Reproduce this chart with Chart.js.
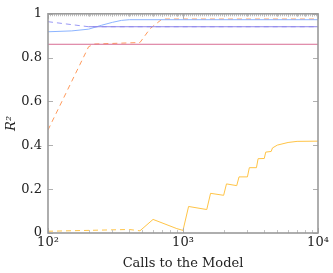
<!DOCTYPE html>
<html>
<head>
<meta charset="utf-8">
<script src="https://cdn.jsdelivr.net/npm/chart.js@4.4.0/dist/chart.umd.min.js"></script>
<style>
  html, body { margin: 0; padding: 0; background: #fff; }
  #wrap { width: 333px; height: 273px; }
</style>
</head>
<body>
<div id="wrap"><canvas id="r2chart" width="333" height="273"></canvas></div>
<script>
// series values (x = calls to the model, y = R^2)
const blueSolidX = [100, 150, 200, 250, 300, 350, 400, 10000];
const blueSolidY = [0.918, 0.922, 0.93, 0.948, 0.961, 0.97, 0.973, 0.973];

const blueDashX = [100, 200, 10000];
const blueDashY = [0.964, 0.941, 0.941];

const purpleX = [200, 10000];
const purpleY = [0.941, 0.941];

const pinkX = [100, 10000];
const pinkY = [0.861, 0.861];

const orangeDashX = [100, 200, 220, 480, 570, 700, 10000];
const orangeDashY = [0.47, 0.85, 0.862, 0.869, 0.932, 0.976, 0.976];

const yellowDashX = [100, 400, 480];
const yellowDashY = [0.008, 0.016, 0.01];

const yellowX = [480, 600, 900, 1000, 1100, 1500, 1600, 2000, 2100, 2500, 2600, 3000, 3100,
                 3500, 3600, 4000, 4100, 4500, 4600, 5000, 6000, 7000, 10000];
const yellowY = [0.01, 0.062, 0.02, 0.012, 0.121, 0.107, 0.181, 0.172, 0.224, 0.216, 0.256, 0.256, 0.298,
                 0.298, 0.339, 0.34, 0.369, 0.372, 0.388, 0.401, 0.413, 0.418, 0.419];

// axis ticks
const xTickValues = [100, 1000, 10000];
const xTickLabels = ['10²', '10³', '10⁴'];
const yTickValues = [0, 0.2, 0.4, 0.6, 0.8, 1];
const yTickLabels = ['0', '0.2', '0.4', '0.6', '0.8', '1'];

const SERIF = "'DejaVu Serif', serif";

const pts = (xs, ys) => xs.map((x, i) => ({ x, y: ys[i] }));

function line(label, xs, ys, color, dashed) {
  return {
    label,
    data: pts(xs, ys),
    borderColor: color,
    borderWidth: 1,
    borderDash: dashed ? [5, 4] : [],
    pointRadius: 0,
    fill: false,
    tension: 0
  };
}

// pgfplots style frame with inward ticks
const framePlugin = {
  id: 'frame',
  afterDraw(chart) {
    const ctx = chart.ctx;
    const a = chart.chartArea;
    const sx = chart.scales.x;
    const sy = chart.scales.y;
    ctx.save();

    // minor ticks on the log axis
    ctx.strokeStyle = '#c4c4c4';
    ctx.lineWidth = 1;
    [100, 1000].forEach(d => {
      for (let k = 2; k <= 9; k++) {
        const px = Math.round(sx.getPixelForValue(d * k)) + 0.5;
        ctx.beginPath();
        ctx.moveTo(px, a.bottom); ctx.lineTo(px, a.bottom - 3);
        ctx.moveTo(px, a.top); ctx.lineTo(px, a.top + 3);
        ctx.stroke();
      }
    });
    // major ticks
    ctx.strokeStyle = '#b0b0b0';
    xTickValues.forEach(v => {
      const px = Math.round(sx.getPixelForValue(v)) + 0.5;
      ctx.beginPath();
      ctx.moveTo(px, a.bottom); ctx.lineTo(px, a.bottom - 5);
      ctx.moveTo(px, a.top); ctx.lineTo(px, a.top + 5);
      ctx.stroke();
    });
    yTickValues.forEach(v => {
      const py = Math.round(sy.getPixelForValue(v)) + 0.5;
      ctx.beginPath();
      ctx.moveTo(a.left, py); ctx.lineTo(a.left + 5, py);
      ctx.moveTo(a.right, py); ctx.lineTo(a.right - 5, py);
      ctx.stroke();
    });

    // top edge looks busy in the reference
    ctx.strokeStyle = '#bdbdbd';
    ctx.lineWidth = 2;
    ctx.setLineDash([1, 1]);
    ctx.beginPath();
    ctx.moveTo(a.left, a.top + 1.5); ctx.lineTo(a.right, a.top + 1.5);
    ctx.stroke();
    ctx.setLineDash([]);

    // box
    ctx.strokeStyle = '#9a9a9a';
    ctx.lineWidth = 1.6;
    ctx.strokeRect(a.left, a.top, a.right - a.left, a.bottom - a.top);
    ctx.restore();
  }
};

new Chart(document.getElementById('r2chart').getContext('2d'), {
  type: 'line',
  data: {
    datasets: [
      line('pink', pinkX, pinkY, '#d86d93', false),
      line('purple', purpleX, purpleY, '#8f86e8', false),
      line('blue dashed', blueDashX, blueDashY, '#9a98f5', true),
      line('blue', blueSolidX, blueSolidY, '#8cb4ff', false),
      line('orange dashed', orangeDashX, orangeDashY, '#ff9a5c', true),
      line('yellow dashed', yellowDashX, yellowDashY, '#ffc447', true),
      line('yellow', yellowX, yellowY, '#ffc447', false)
    ]
  },
  options: {
    responsive: false,
    animation: false,
    layout: { padding: { top: 8, right: 15, left: 0, bottom: 0 } },
    plugins: {
      legend: { display: false },
      tooltip: { enabled: false }
    },
    scales: {
      x: {
        type: 'logarithmic',
        min: 100,
        max: 10000,
        grid: { display: false, drawTicks: false },
        border: { display: false },
        afterBuildTicks: s => { s.ticks = xTickValues.map(v => ({ value: v })); },
        afterFit: s => { s.height = 40; },
        ticks: {
          autoSkip: false,
          maxRotation: 0,
          padding: 2,
          color: '#222',
          font: { family: SERIF, size: 13 },
          callback: v => xTickLabels[xTickValues.indexOf(v)] ?? ''
        },
        title: {
          display: true,
          text: 'Calls to the Model',
          color: '#222',
          font: { family: SERIF, size: 13 },
          padding: { top: 0, bottom: 2 }
        }
      },
      y: {
        min: 0,
        max: 1,
        grid: { display: false, drawTicks: false },
        border: { display: false },
        afterBuildTicks: s => { s.ticks = yTickValues.map(v => ({ value: v })); },
        afterFit: s => { s.width = 48; },
        ticks: {
          padding: 6,
          color: '#222',
          font: { family: SERIF, size: 13 },
          callback: v => yTickLabels[yTickValues.indexOf(v)] ?? ''
        },
        title: {
          display: true,
          text: 'R²',
          color: '#222',
          font: { family: SERIF, size: 13, style: 'italic' },
          padding: { top: 4, bottom: 0 }
        }
      }
    }
  },
  plugins: [framePlugin]
});
</script>
</body>
</html>
